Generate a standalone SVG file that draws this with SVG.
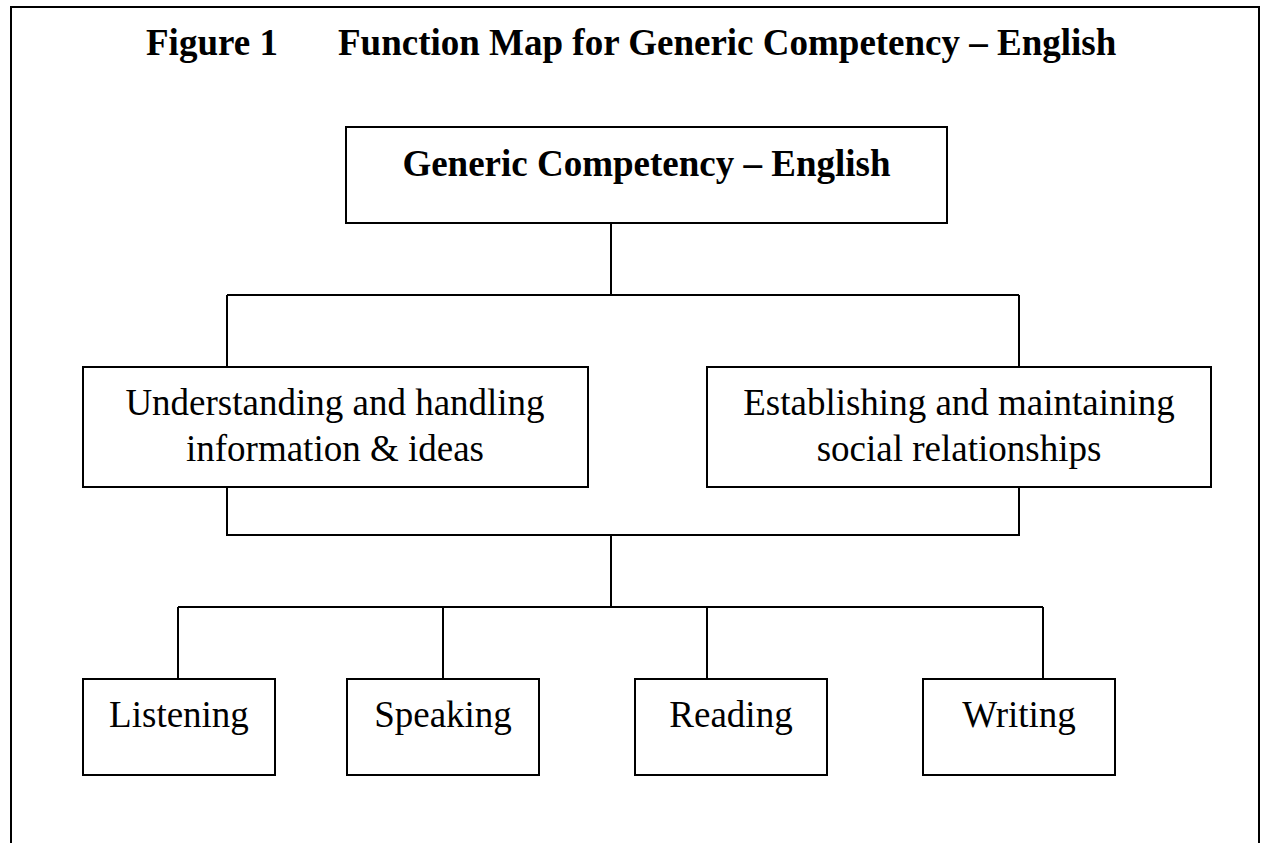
<svg xmlns="http://www.w3.org/2000/svg" width="1264" height="843" viewBox="0 0 1264 843">
<style>
.box{fill:#fff;stroke:#000;stroke-width:2}
.ln{fill:none;stroke:#000;stroke-width:2}
.t{font-family:"Liberation Serif","Times New Roman",serif;font-size:37px;fill:#000}
.b{font-weight:bold}
.c{text-anchor:middle}
</style>
<rect x="0" y="0" width="1264" height="843" fill="#fff"/>
<g id="frame"><path class="ln" d="M11,850 V7 H1259 V850"/></g>
<g id="title">
<text class="t b" x="146" y="55">Figure 1</text>
<text class="t b" x="338" y="55">Function Map for Generic Competency – English</text>
</g>
<g id="connectors">
<path class="ln" d="M611,223 V295 M227,295 H1019 M227,295 V367 M1019,295 V367"/>
<path class="ln" d="M227,487 V535 H1019 V487 M611,535 V607 M178,607 H1043 M178,607 V679 M443,607 V679 M707,607 V679 M1043,607 V679"/>
</g>
<g id="n-root">
<rect class="box" x="346" y="127" width="601" height="96"/>
<text class="t b c" x="646.5" y="176">Generic Competency – English</text>
</g>
<g id="n-understanding">
<rect class="box" x="83" y="367" width="505" height="120"/>
<text class="t c" x="335" y="415">Understanding and handling</text>
<text class="t c" x="335" y="461">information &amp; ideas</text>
</g>
<g id="n-establishing">
<rect class="box" x="707" y="367" width="504" height="120"/>
<text class="t c" x="959" y="415">Establishing and maintaining</text>
<text class="t c" x="959" y="461">social relationships</text>
</g>
<g id="n-listening">
<rect class="box" x="83" y="679" width="192" height="96"/>
<text class="t c" x="179" y="727">Listening</text>
</g>
<g id="n-speaking">
<rect class="box" x="347" y="679" width="192" height="96"/>
<text class="t c" x="443" y="727">Speaking</text>
</g>
<g id="n-reading">
<rect class="box" x="635" y="679" width="192" height="96"/>
<text class="t c" x="731" y="727">Reading</text>
</g>
<g id="n-writing">
<rect class="box" x="923" y="679" width="192" height="96"/>
<text class="t c" x="1019" y="727">Writing</text>
</g>
</svg>
